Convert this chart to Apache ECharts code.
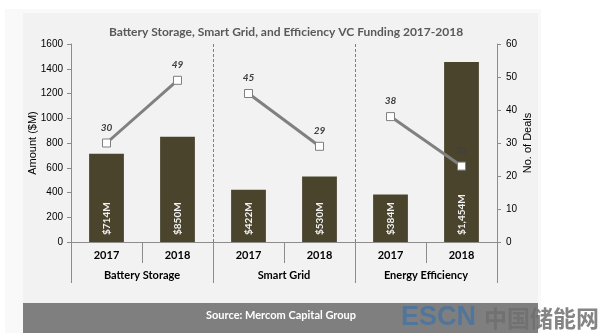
<!DOCTYPE html>
<html><head><meta charset="utf-8">
<script src="https://cdn.jsdelivr.net/npm/echarts@6/dist/echarts.min.js"></script>
<style>html,body{margin:0;padding:0;background:#fff}#c{width:610px;height:333px}</style>
</head><body><div id="c"></div>
<script>
const years = ['2017','2018','2017','2018','2017','2018'];
const groups = ['Battery Storage','Smart Grid','Energy Efficiency'];
const amounts = [714, 850, 422, 530, 384, 1454];
const dealsBattery = [30, 49, null, null, null, null];
const dealsGrid = [null, null, 45, 29, null, null];
const dealsEfficiency = [null, null, null, null, 38, 23];
const leftTicks = [0, 1600, 200];
const rightTicks = [0, 60, 10];

const chart = echarts.init(document.getElementById('c'), null, {renderer:'canvas'});
const axisGrey = '#8c8c8c';
const lineSeries = (d) => ({
  type:'line', yAxisIndex:1, xAxisIndex:0, data:d, symbol:'rect', symbolSize:8,
  lineStyle:{color:'#808080', width:3}, itemStyle:{color:'#ffffff', borderColor:'#7f7f7f', borderWidth:1},
  label:{show:true, position:'top', distance:6, color:'#404040', fontFamily:'Lato', fontSize:10, fontWeight:'bold', fontStyle:'italic'},
  z:5, animation:false
});
chart.setOption({
  animation:false,
  graphic:[
    {type:'rect', shape:{x:5,y:9,width:536,height:324}, style:{fill:'#f9f9f9'}, z:-10},
    {type:'rect', shape:{x:23,y:13,width:515,height:290}, style:{fill:'#f2f2f2'}, z:-9},
    {type:'rect', shape:{x:23,y:303,width:515,height:30}, style:{fill:'#7f7f7f'}, z:-9},
    {type:'text', style:{x:281,y:315,text:'Source: Mercom Capital Group', fill:'#ffffff', font:'bold 11px Lato', align:'center', verticalAlign:'middle'}, z:10},
    {type:'text', style:{x:401,y:318,text:'ESCN', fill:'rgba(74,115,160,0.85)', font:'bold 27px "Liberation Sans"', align:'left', verticalAlign:'middle'}, z:10},
    {type:'text', style:{x:484,y:318,text:'中国储能网', fill:'rgba(110,110,110,0.85)', font:'bold 23px "Noto Sans CJK SC"', align:'left', verticalAlign:'middle'}, z:10}
  ],
  title:{text:'Battery Storage, Smart Grid, and Efficiency VC Funding 2017-2018', left:281, top:21, textAlign:'center',
    textStyle:{fontFamily:'Lato', fontSize:12, fontWeight:'bold', color:'#595959'}},
  grid:{left:71, right:113, top:44, bottom:91},
  xAxis:[
    {type:'category', data:years, position:'bottom',
     axisLine:{lineStyle:{color:axisGrey}}, axisTick:{show:true, interval:0, length:21, lineStyle:{color:axisGrey}},
     axisLabel:{interval:0, margin:8, color:'#000', fontFamily:'Lato', fontSize:11, fontWeight:'bold'}, splitLine:{show:false}},
    {type:'category', data:groups, position:'bottom',
     axisLine:{show:false}, axisTick:{show:true, interval:0, length:41, lineStyle:{color:axisGrey}},
     axisLabel:{interval:0, margin:28, color:'#000', fontFamily:'Lato', fontSize:11, fontWeight:'bold'},
     splitLine:{show:true, interval:0, lineStyle:{color:'#7f7f7f', type:[3,2], width:1}}}
  ],
  yAxis:[
    {type:'value', min:leftTicks[0], max:leftTicks[1], interval:leftTicks[2], name:'Amount ($M)', nameLocation:'middle', nameGap:33, nameMoveOverlap:false,
     nameTextStyle:{fontFamily:'Liberation Sans', fontSize:11, color:'#000'},
     axisLine:{show:true, lineStyle:{color:axisGrey}}, axisTick:{show:true, length:4, lineStyle:{color:axisGrey}},
     axisLabel:{margin:8, color:'#000', fontFamily:'Liberation Sans', fontSize:10, formatter:(v)=>String(v)}, splitLine:{show:false}},
    {type:'value', min:rightTicks[0], max:rightTicks[1], interval:rightTicks[2], position:'right', name:'No. of Deals', nameLocation:'middle', nameGap:25, nameRotate:90, nameMoveOverlap:false,
     nameTextStyle:{fontFamily:'Liberation Sans', fontSize:11, color:'#000'},
     axisLine:{show:true, lineStyle:{color:axisGrey}}, axisTick:{show:true, length:4, lineStyle:{color:axisGrey}},
     axisLabel:{margin:9, color:'#000', fontFamily:'Liberation Sans', fontSize:10}, splitLine:{show:false}}
  ],
  series:[
    {type:'bar', data:amounts, barWidth:'49%', itemStyle:{color:'#4a442d'},
     label:{show:true, position:'insideBottom', rotate:90, align:'left', verticalAlign:'middle', distance:7,
       formatter:(p)=>'$'+p.value.toLocaleString('en-US')+'M', color:'#f2f2f2', fontFamily:'Lato', fontSize:10, fontWeight:'bold'}},
    lineSeries(dealsBattery), lineSeries(dealsGrid), lineSeries(dealsEfficiency)
  ]
});
</script></body></html>
